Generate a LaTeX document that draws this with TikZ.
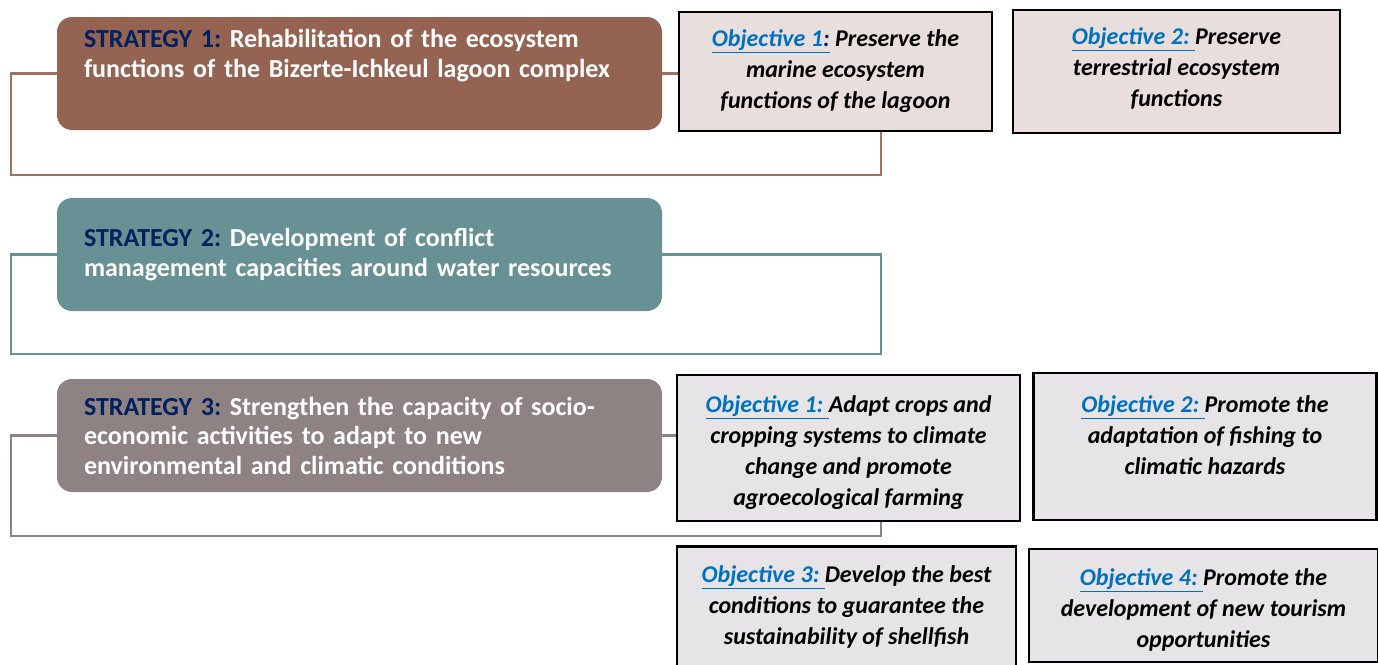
\documentclass[tikz,border=0pt]{standalone}
\usepackage{fontspec}
\setmainfont{Carlito}
\usetikzlibrary{positioning}

\definecolor{rust}{RGB}{149,99,81}
\definecolor{teal2}{RGB}{103,145,148}
\definecolor{mauve}{RGB}{143,130,130}
\definecolor{navy}{RGB}{0,32,96}
\definecolor{objblue}{RGB}{0,112,192}
\definecolor{pinkfill}{RGB}{232,222,220}
\definecolor{greyfill}{RGB}{230,228,230}

\newcommand{\strat}[1]{\textcolor{navy}{STRATEGY #1:}}
\newcommand{\objlab}[1]{{\color{objblue}\underline{Objective #1:\ }}}

\begin{document}
\frenchspacing
\begin{tikzpicture}[x=1pt,y=-1pt,
  stratbox/.style={rectangle,rounded corners=15pt,minimum width=605pt,minimum height=113pt,
    text width=551pt,align=left,inner sep=0pt,text=white,
    font=\fontsize{26}{29.5}\selectfont\bfseries},
  objbox/.style={rectangle,draw=black,line width=2.5pt,align=center,inner sep=0pt,
    font=\fontsize{24}{31}\selectfont\bfseries\itshape},
  bracket/.style={line width=2.5pt}]

\useasboundingbox (0,0) rectangle (1378,664);

% strategies
\node[stratbox,fill=rust] (s1) at (359.5,73.5)
  {\strat{1} Rehabilitation of the ecosystem\\functions of the Bizerte-Ichkeul lagoon complex\\[11pt]\mbox{}};
\node[stratbox,fill=teal2] (s2) at (359.5,254.5)
  {\strat{2} Development of conflict\\management capacities around water resources};
\node[stratbox,fill=mauve] (s3) at (359.5,435.5)
  {\strat{3} Strengthen the capacity of socio-\\economic activities to adapt to new\\environmental and climatic conditions};

% objectives
\node[objbox,fill=pinkfill,minimum width=313pt,minimum height=119pt] (o11) at (835.5,71.5)
  {{\color{objblue}\underline{Objective 1\textcolor{navy}{:}}}\ Preserve the\\marine ecosystem\\functions of the lagoon};
\node[objbox,fill=pinkfill,minimum width=327pt,minimum height=123pt] (o12) at (1176.5,71.5)
  {\objlab{2}Preserve\\terrestrial ecosystem\\functions\\[-22pt]\mbox{}};
\node[objbox,fill=greyfill,minimum width=343pt,minimum height=146pt] (o31) at (848.5,448)
  {\mbox{}\\[-5pt]\objlab{1}Adapt crops and\\cropping systems to climate\\change and promote\\agroecological farming};
\node[objbox,fill=greyfill,minimum width=343pt,minimum height=147pt] (o32) at (1205,446.5)
  {\objlab{2}Promote the\\adaptation of fishing to\\climatic hazards\\[-8pt]\mbox{}};
\node[objbox,fill=greyfill,minimum width=339pt,minimum height=121pt] (o33) at (846.5,607)
  {\objlab{3}Develop the best\\conditions to guarantee the\\sustainability of shellfish};
\node[objbox,fill=greyfill,minimum width=349pt,minimum height=113pt] (o34) at (1203.5,605.5)
  {\mbox{}\\[-5pt]\objlab{4}Promote the\\development of new tourism\\opportunities};

% brackets
\coordinate (t1) at (881,175);
\coordinate (t2) at (881,354);
\coordinate (t3) at (881,536);
\draw[bracket,rust!90!white] (s1.west) -- ++(-46,0) |- (t1) -- (t1 |- o11.south);
\draw[bracket,rust!90!white] (s1.east) -- (o11.west |- s1.east);
\draw[bracket,teal2] (s2.west) -- ++(-46,0) |- (t2) |- (s2.east);
\draw[bracket,mauve] (s3.west) -- ++(-46,0) |- (t3) -- (t3 |- o31.south);
\draw[bracket,mauve] (s3.east) -- (o31.west |- s3.east);

\end{tikzpicture}
\end{document}
